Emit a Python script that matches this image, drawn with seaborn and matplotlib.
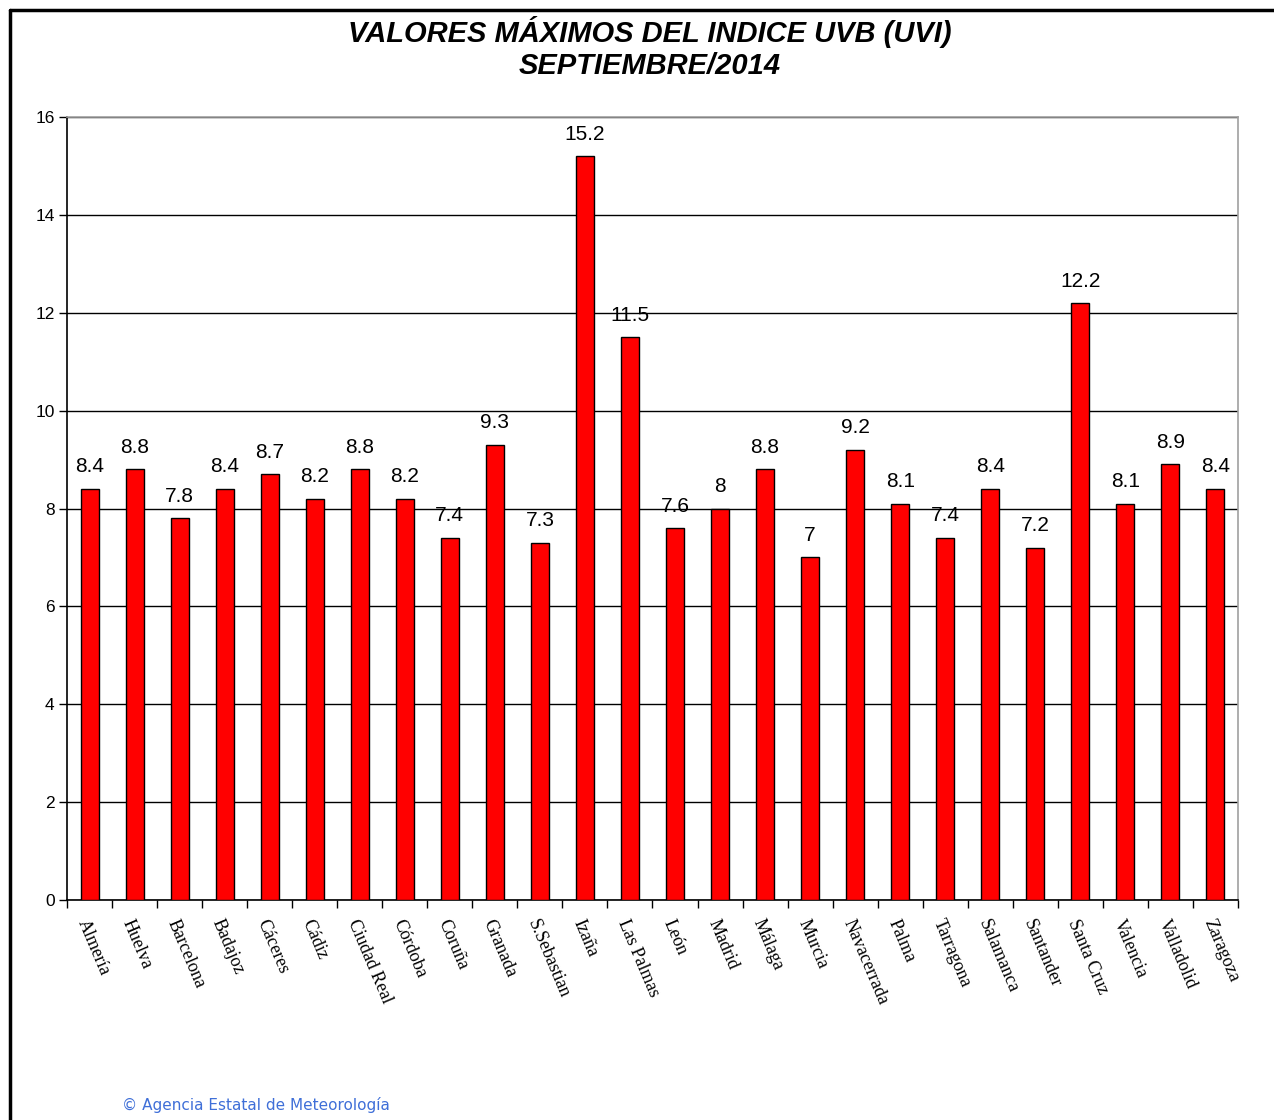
import matplotlib
matplotlib.use("Agg")
import matplotlib.pyplot as plt
from matplotlib.lines import Line2D
import seaborn as sns
import pandas as pd

# datos del gráfico
estaciones = ["Almería", "Huelva", "Barcelona", "Badajoz", "Cáceres", "Cádiz",
              "Ciudad Real", "Córdoba", "Coruña", "Granada", "S.Sebastian", "Izaña",
              "Las Palmas", "León", "Madrid", "Málaga", "Murcia", "Navacerrada",
              "Palma", "Tarragona", "Salamanca", "Santander", "Santa Cruz",
              "Valencia", "Valladolid", "Zaragoza"]
uvi_max = [8.4, 8.8, 7.8, 8.4, 8.7, 8.2, 8.8, 8.2, 7.4, 9.3, 7.3, 15.2,
           11.5, 7.6, 8, 8.8, 7, 9.2, 8.1, 7.4, 8.4, 7.2, 12.2, 8.1, 8.9, 8.4]
y_ticks = [0, 2, 4, 6, 8, 10, 12, 14, 16]

df = pd.DataFrame({"estacion": estaciones, "uvi": uvi_max})

sns.set_style("white")
plt.rcParams['font.family'] = ['Liberation Sans', 'DejaVu Sans']
plt.rcParams['text.color'] = 'black'
plt.rcParams['xtick.color'] = 'black'
plt.rcParams['ytick.color'] = 'black'

fig = plt.figure(figsize=(12.74, 11.2), dpi=100)
ax = fig.add_axes([0.0526, 0.1964, 0.9191, 0.6991])

sns.barplot(data=df, x="estacion", y="uvi", color="#ff0000", saturation=1,
            edgecolor="black", linewidth=1, width=0.4, ax=ax, zorder=3)

ax.bar_label(ax.containers[0], labels=[f"{v:g}" for v in uvi_max],
             padding=9, fontsize=15, color="black")

ax.set_ylim(0, 16)
ax.set_xlim(-0.5, len(estaciones) - 0.5)
ax.set_yticks(y_ticks)
ax.set_yticklabels([str(t) for t in y_ticks], fontsize=12.5)
ax.yaxis.grid(True, color="black", linewidth=1, zorder=0)
ax.set_axisbelow(True)
ax.set_xlabel("")
ax.set_ylabel("")

# ticks del eje x entre categorías, como en Excel
ax.set_xticks(range(len(estaciones)))
ax.set_xticklabels(estaciones, rotation=-67, ha="left", va="top",
                   rotation_mode="anchor", fontsize=13,
                   family=["Liberation Serif", "DejaVu Serif"])
ax.set_xticks([i - 0.5 for i in range(len(estaciones) + 1)], minor=True)
ax.tick_params(axis="x", which="major", length=0, pad=12)
ax.tick_params(axis="x", which="minor", length=6, width=1, color="black",
               direction="out", bottom=True)
ax.tick_params(axis="y", length=6, width=1, color="black", direction="out",
               left=True, pad=3)

for s in ["left", "bottom"]:
    ax.spines[s].set_color("black")
    ax.spines[s].set_linewidth(1.2)
for s in ["top", "right"]:
    ax.spines[s].set_color("#a0a0a0")
    ax.spines[s].set_linewidth(1.2)

fig.text(0.51, 0.971, "VALORES MÁXIMOS DEL INDICE UVB (UVI)", ha="center",
         va="center", fontsize=21, fontweight="bold", fontstyle="italic",
         color="black")
fig.text(0.51, 0.941, "SEPTIEMBRE/2014", ha="center", va="center",
         fontsize=21, fontweight="bold", fontstyle="italic", color="black")

fig.text(0.096, 0.013, "\u00a9 Agencia Estatal de Meteorología", ha="left",
         va="center", fontsize=11, color="#3f6fd8",
         family=["DejaVu Sans"])

# marco negro (borde superior e izquierdo)
fig.add_artist(Line2D([0.0078, 1.0], [0.9915, 0.9915], color="black",
                      linewidth=2.5, transform=fig.transFigure))
fig.add_artist(Line2D([0.0078, 0.0078], [0.9915, 0.0], color="black",
                      linewidth=2.5, transform=fig.transFigure))

fig.savefig("out.png", dpi=100)
